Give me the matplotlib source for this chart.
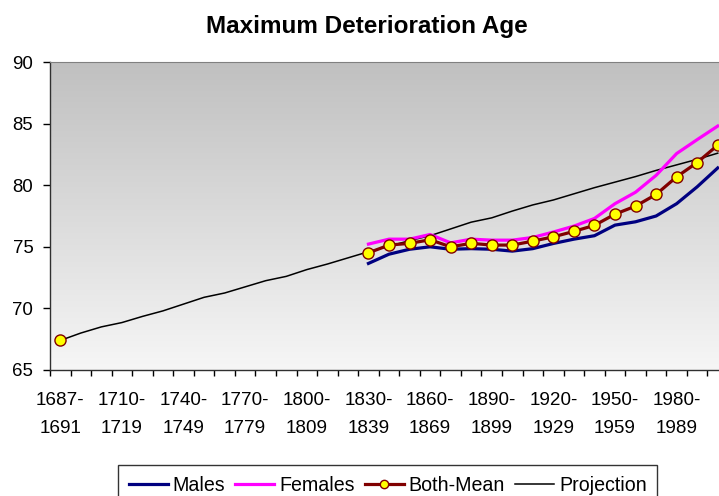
import numpy as np
import matplotlib
matplotlib.use("Agg")
import matplotlib.pyplot as plt
from matplotlib.lines import Line2D

plt.rcParams["font.family"] = ["Liberation Sans", "DejaVu Sans"]

# category labels (decades)
categories = ["1687-\n1691", "1690-\n1699", "1700-\n1709"] + \
    [f"{y}-\n{y + 9}" for y in range(1710, 2010, 10)]

# values (index 15 = 1830-1839)
males = [73.65, 74.4, 74.8, 75.0, 74.8, 74.85, 74.8, 74.65, 74.85,
         75.27, 75.62, 75.9, 76.76, 77.03, 77.5, 78.5, 79.87, 81.4]
females = [75.22, 75.62, 75.62, 76.0, 75.32, 75.62, 75.54, 75.54, 75.76,
           76.2, 76.68, 77.3, 78.5, 79.43, 80.8, 82.57, 83.7, 84.8]
both_mean = [74.51, 75.14, 75.28, 75.57, 75.0, 75.28, 75.14, 75.14, 75.46,
             75.81, 76.25, 76.74, 77.65, 78.3, 79.25, 80.68, 81.84, 83.25]
first_mean = 67.43  # 1687-1691 point
projection = [67.4, 68.0, 68.5, 68.85, 69.35, 69.8, 70.35, 70.9, 71.25,
              71.75, 72.25, 72.6, 73.15, 73.6, 74.1, 74.6, 75.05, 75.5,
              75.9, 76.45, 77.0, 77.35, 77.9, 78.4, 78.8, 79.3, 79.8,
              80.25, 80.7, 81.2, 81.65, 82.1, 82.6]

n = len(categories)
x_all = np.arange(n)
x_obs = np.arange(n - len(males), n)

navy = "#000080"
magenta = "#ff00ff"
maroon = "#800000"

fig = plt.figure(figsize=(7.19, 4.96), dpi=100)
# plot area runs past the right edge like the cropped original
ax = fig.add_axes([50 / 719, 1 - 370 / 496, 678 / 719, 308 / 496])

# grey gradient background, dark at the top
grad = np.linspace(0, 1, 256).reshape(-1, 1)
ax.imshow(grad, cmap=matplotlib.colors.LinearSegmentedColormap.from_list(
    "bg", ["#c0c0c0", "#f6f6f6"]), aspect="auto", extent=[0, 1, 0, 1],
    origin="upper", transform=ax.transAxes, zorder=0)

ax.plot(x_all, projection, color="black", lw=1.1, zorder=3)
ax.plot(x_obs, males, color=navy, lw=2.3, zorder=4)
ax.plot(x_obs, females, color=magenta, lw=2.3, zorder=4)
ax.plot(x_obs, both_mean, color=maroon, lw=2.3, marker="o", ms=8,
        mfc="yellow", mec=maroon, mew=1, zorder=5)
ax.plot([0], [first_mean], ls="none", marker="o", ms=8,
        mfc="yellow", mec=maroon, mew=1, zorder=5)

ax.set_xlim(-0.5, n - 0.5)
ax.set_ylim(65, 90)
ax.set_yticks([65, 70, 75, 80, 85, 90])
ax.tick_params(axis="y", direction="out", length=5, width=1, pad=7,
               labelsize=13.4, colors="black")

# ticks on category borders, labels on every third category
ax.set_xticks(np.arange(-0.5, n, 1.0))
ax.set_xticklabels([])
ax.tick_params(axis="x", which="major", direction="out", length=4.5, width=1)
ax.set_xticks(np.arange(0, n, 3), minor=True)
ax.set_xticklabels(categories[::3], minor=True, linespacing=1.8)
ax.tick_params(axis="x", which="minor", length=0, pad=16, labelsize=13.6)

for s in ["left", "bottom"]:
    ax.spines[s].set_color("#303030")
    ax.spines[s].set_linewidth(1)
ax.spines["top"].set_color("#808080")
ax.spines["right"].set_visible(False)

fig.text(366.5 / 719, 1 - 33.5 / 496, "Maximum Deterioration Age",
         ha="center", va="baseline", fontsize=17.5, fontweight="bold")

handles = [
    Line2D([], [], color=navy, lw=2.3),
    Line2D([], [], color=magenta, lw=2.3),
    Line2D([], [], color=maroon, lw=2.3, marker="o", ms=6,
           mfc="yellow", mec=maroon, mew=1),
    Line2D([], [], color="black", lw=1.1),
]
leg = fig.legend(handles, ["Males", "Females", "Both-Mean", "Projection"],
                 loc="upper left", bbox_to_anchor=(118 / 719, 1 - 465 / 496),
                 ncol=4, fontsize=14.1, frameon=True, fancybox=False,
                 handlelength=2.0, handletextpad=0.25, columnspacing=0.5,
                 borderpad=0.55, borderaxespad=0)
leg.get_frame().set_edgecolor("black")
leg.get_frame().set_linewidth(1)

fig.savefig("out.png", dpi=100)
